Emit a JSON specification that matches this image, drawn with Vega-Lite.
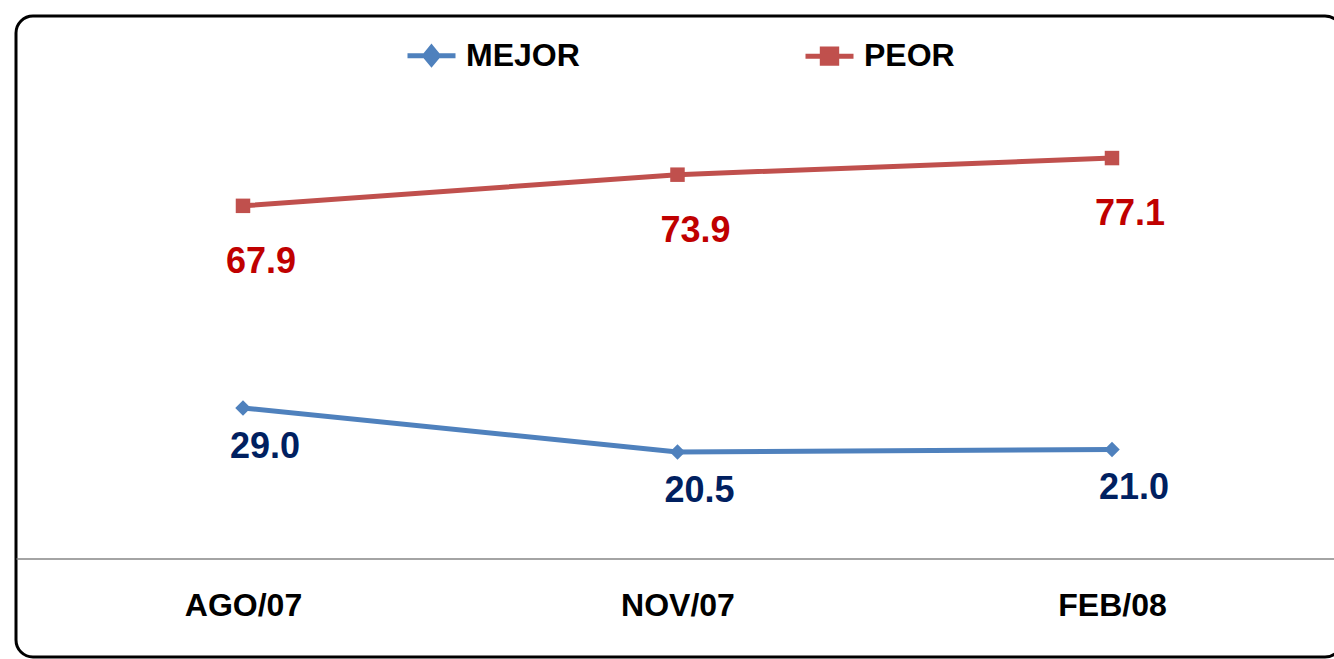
{
  "$schema": "https://vega.github.io/schema/vega-lite/v6.json",
  "width": 1326,
  "height": 641,
  "autosize": {"type": "none"},
  "padding": {"left": 16, "top": 16, "right": -8, "bottom": 2},
  "background": "white",
  "config": {
    "view": {"stroke": "black", "strokeWidth": 3, "cornerRadius": 17},
    "font": "Liberation Sans"
  },
  "data": {
    "values": [
      {"period": "AGO/07", "series": "MEJOR", "value": 29.0},
      {"period": "NOV/07", "series": "MEJOR", "value": 20.5},
      {"period": "FEB/08", "series": "MEJOR", "value": 21.0},
      {"period": "AGO/07", "series": "PEOR", "value": 67.9},
      {"period": "NOV/07", "series": "PEOR", "value": 73.9},
      {"period": "FEB/08", "series": "PEOR", "value": 77.1}
    ]
  },
  "layer": [
    {
      "mark": {"type": "line", "strokeWidth": 5},
      "encoding": {
        "x": {"field": "period", "type": "ordinal", "sort": ["AGO/07", "NOV/07", "FEB/08"],
          "scale": {"type": "point", "padding": 0.5259, "align": 0.4967},
          "axis": {"orient": "bottom", "offset": -98.5, "title": null, "domainColor": "#868686", "domainWidth": 1.5, "ticks": false, "tickSize": 0, "labelAngle": 0, "labelFontSize": 32, "labelFontWeight": "bold", "labelColor": "black", "labelFont": "Liberation Sans", "labelPadding": 47, "labelBaseline": "middle", "grid": false}},
        "y": {"field": "value", "type": "quantitative", "scale": {"domain": [-18.96, 104.45], "nice": false, "zero": false}, "axis": null},
        "color": {"field": "series", "type": "nominal",
          "scale": {"domain": ["MEJOR", "PEOR"], "range": ["#4F81BD", "#C0504D"]},
          "legend": {"orient": "none", "legendX": 389, "legendY": 13, "direction": "horizontal", "title": null, "padding": 0,
            "symbolType": {"expr": "datum.value === 'MEJOR' ? 'M-1,0H1M0,-0.34L0.28,0L0,0.34L-0.28,0Z' : 'M-1,0H1M-0.3,-0.3H0.3V0.3H-0.3Z'"},
            "symbolFillColor": {"expr": "datum.value === 'MEJOR' ? '#4F81BD' : '#C0504D'"},
            "symbolSize": 2304, "symbolStrokeWidth": 5,
            "labelFontSize": 32, "labelFont": "Liberation Sans", "labelFontWeight": "bold", "labelColor": "black", "labelOffset": 8, "columnPadding": 215}}
      }
    },
    {
      "transform": [{"filter": "datum.series === 'MEJOR'"}],
      "mark": {"type": "point", "shape": "diamond", "filled": true, "size": 240, "color": "#4F81BD", "opacity": 1},
      "encoding": {
        "x": {"field": "period", "type": "ordinal", "sort": ["AGO/07", "NOV/07", "FEB/08"]},
        "y": {"field": "value", "type": "quantitative"}
      }
    },
    {
      "transform": [{"filter": "datum.series === 'PEOR'"}],
      "mark": {"type": "point", "shape": "square", "filled": true, "size": 210, "color": "#C0504D", "opacity": 1},
      "encoding": {
        "x": {"field": "period", "type": "ordinal", "sort": ["AGO/07", "NOV/07", "FEB/08"]},
        "y": {"field": "value", "type": "quantitative"}
      }
    },
    {
      "transform": [{"filter": "datum.series === 'PEOR'"}],
      "mark": {"type": "text", "fontSize": 36, "fontWeight": "bold", "color": "#C00000", "dx": 18, "dy": 56, "baseline": "middle", "font": "Liberation Sans"},
      "encoding": {
        "x": {"field": "period", "type": "ordinal", "sort": ["AGO/07", "NOV/07", "FEB/08"]},
        "y": {"field": "value", "type": "quantitative"},
        "text": {"field": "value", "type": "quantitative", "format": ".1f"}
      }
    },
    {
      "transform": [{"filter": "datum.series === 'MEJOR'"}],
      "mark": {"type": "text", "fontSize": 36, "fontWeight": "bold", "color": "#002060", "dx": 22, "dy": 39, "baseline": "middle", "font": "Liberation Sans"},
      "encoding": {
        "x": {"field": "period", "type": "ordinal", "sort": ["AGO/07", "NOV/07", "FEB/08"]},
        "y": {"field": "value", "type": "quantitative"},
        "text": {"field": "value", "type": "quantitative", "format": ".1f"}
      }
    }
  ]
}
